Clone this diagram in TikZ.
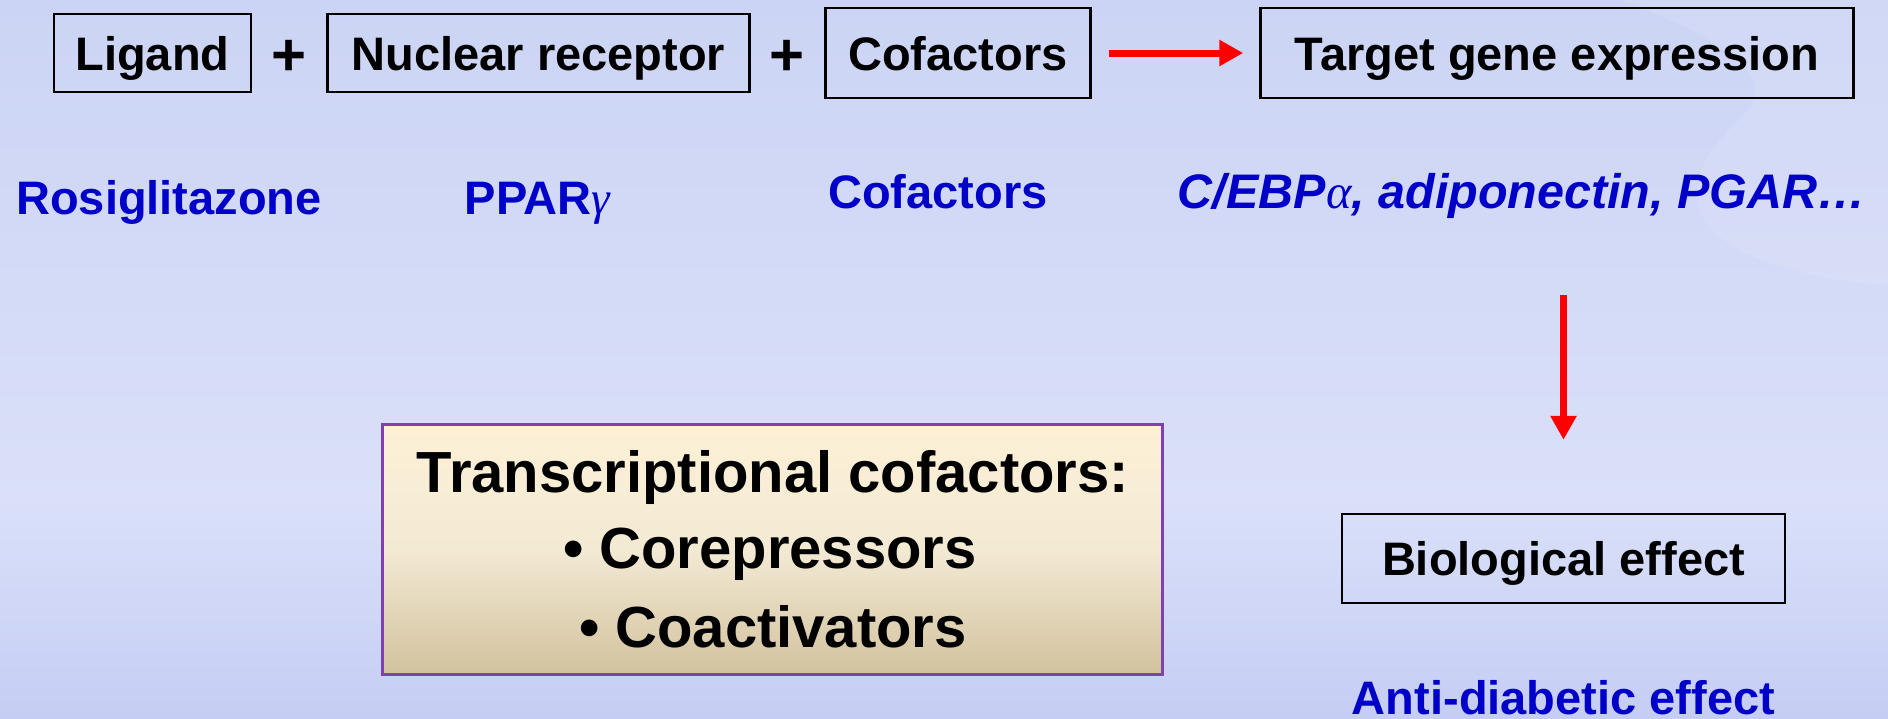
\documentclass[tikz,border=0pt]{standalone}
\usepackage{fontspec}
\setmainfont{Liberation Sans}
\newfontfamily\greekfont{Liberation Serif}
\usetikzlibrary{arrows.meta}

\definecolor{bgtop}{RGB}{204,212,245}
\definecolor{bgmid}{RGB}{218,224,249}
\definecolor{bgbot}{RGB}{197,205,244}
\definecolor{labelblue}{RGB}{0,0,200}
\definecolor{arrowred}{RGB}{255,0,0}
\definecolor{boxpurple}{RGB}{128,64,176}
\definecolor{creamtop}{RGB}{253,240,214}
\definecolor{creammid}{RGB}{243,234,212}
\definecolor{creambot}{RGB}{210,194,158}

\begin{document}
\begin{tikzpicture}[x=1pt,y=-1pt,
  termbox/.style={draw=black, line width=2.5pt, inner sep=0pt,
    font=\fontsize{47}{56}\selectfont\bfseries, text height=34pt, text depth=0pt},
  plussign/.style={font=\fontsize{60}{70}\selectfont\bfseries, inner sep=0pt},
  bluelabel/.style={font=\fontsize{47}{56}\selectfont\bfseries, text=labelblue,
    inner sep=0pt, anchor=base},
  cofline/.style={font=\fontsize{58}{70}\selectfont\bfseries, inner sep=0pt, anchor=base},
  redarrow/.style={draw=arrowred, line width=7pt,
    -{Triangle[length=24pt,width=25pt]}}
]
% page and background
\useasboundingbox (0,0) rectangle (1888,718);
\shade[top color=bgtop, bottom color=bgmid] (0,0) rectangle (1888,501);
\shade[top color=bgmid, bottom color=bgbot] (0,500) rectangle (1888,718);
% soft wave in the upper right corner
\fill[white, opacity=0.1] (1622,0) .. controls (1700,30) and (1780,70) .. (1748,110)
  .. controls (1720,140) and (1695,160) .. (1698,200)
  .. controls (1700,250) and (1800,280) .. (1888,285) -- (1888,0) -- cycle;

% top row: the three partners and the result
\node[termbox, minimum width=197pt, minimum height=78pt] (ligand) at (152.5,53) {Ligand};
\node[plussign] (plusA) at (289,58) {+};
\node[termbox, minimum width=422pt, minimum height=78pt] (receptor) at (538.5,53) {Nuclear receptor};
\node[plussign] (plusB) at (787,58) {+};
\node[termbox, minimum width=265pt, minimum height=90pt] (cofactors) at (958,53) {Cofactors};
\node[termbox, minimum width=593pt, minimum height=90pt] (target) at (1557,53) {Target gene expression};

% examples
\node[bluelabel] (rosi) at (169,214) {Rosiglitazone};
\node[bluelabel] (ppar) at (537.5,214) {PPAR{\greekfont\mdseries\itshape γ}};
\node[bluelabel] (cofnames) at (938,208) {Cofactors};
\node[bluelabel, font=\fontsize{48.5}{56}\selectfont\bfseries\itshape] (genes) at (1522,208)
  {C/EBP{\greekfont\mdseries α}, adiponectin, PGAR…};

% cofactor classes
\node[draw=boxpurple, line width=3pt, top color=creamtop, bottom color=creambot,
  middle color=creammid, minimum width=780pt, minimum height=250pt, inner sep=0pt]
  (tcbox) at (772,549) {};
\node[cofline] (tctitle) at (773,492) {Transcriptional cofactors:};
\node[cofline] (corep) at (770,568) {• Corepressors};
\node[cofline] (coact) at (773,647) {• Coactivators};

% outcome
\node[termbox, minimum width=443pt, minimum height=89pt] (bio) at (1563.5,558.5) {Biological effect};
\node[bluelabel] (anti) at (1563.5,714) {Anti-diabetic effect};

% connectors
\draw[redarrow, shorten <=77pt, shorten >=73pt] (genes.south -| bio.north) -- (bio.north);
\draw[redarrow, shorten <=17pt, shorten >=16pt] (cofactors.east) -- (target.west);
\end{tikzpicture}
\end{document}
